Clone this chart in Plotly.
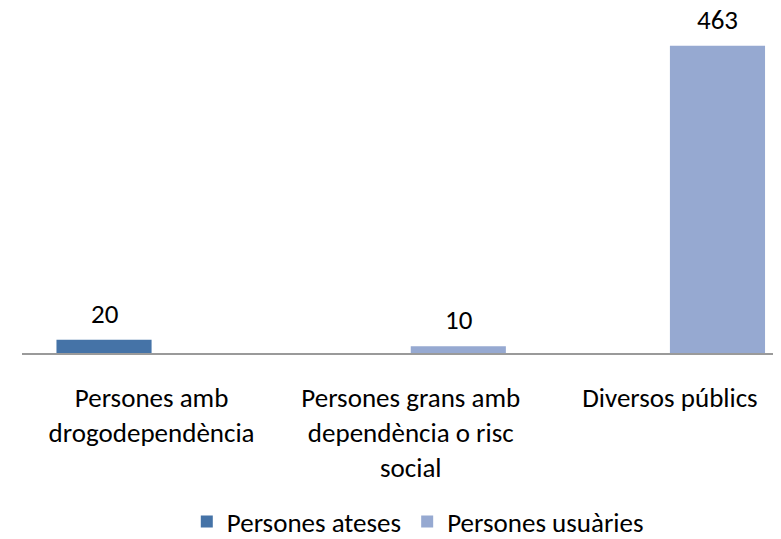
import plotly.graph_objects as go

categories = ["Persones amb<br>drogodependència",
              "Persones grans amb<br>dependència o risc<br>social",
              "Diversos públics"]
series_names = ["Persones ateses", "Persones usuàries"]
ateses = [20, None, None]
usuaries = [None, 10, 463]
colors = ["#4573A7", "#96A9D1"]

FONT = "Carlito, Calibri, Lato, sans-serif"
FS = 27

fig = go.Figure()
for name, vals, col, lg in zip(series_names, [ateses, usuaries], colors,
                               ["legend", "legend2"]):
    fig.add_trace(go.Bar(x=categories, y=vals, name=name, marker_color=col,
                         marker_line_width=0, legend=lg))

# data labels
bargap = 0.266
barw = (1 - bargap) / 2
px_per_unit = (773 - 14) / (2.4286 + 0.5)
for i, vals in enumerate([ateses, usuaries]):
    off = (-0.5 + i) * barw * px_per_unit
    for c, v in zip(categories, vals):
        if v is None:
            continue
        fig.add_annotation(x=c, y=v, text=str(v), showarrow=False,
                           yanchor="bottom", xshift=off, yshift=8,
                           font=dict(family=FONT, size=FS, color="#000000"))

leg_common = dict(orientation="h", xref="container", yref="container",
                  xanchor="left", yanchor="middle", y=0.032,
                  font=dict(family=FONT, size=FS), bgcolor="rgba(0,0,0,0)")

fig.update_layout(
    width=773, height=531,
    margin=dict(l=14, r=0, t=12, b=186),
    paper_bgcolor="white", plot_bgcolor="white",
    barmode="group", bargap=bargap, bargroupgap=0,
    font=dict(family=FONT, size=FS, color="#000000"),
    showlegend=True,
    legend=dict(x=0.2313, **leg_common),
    legend2=dict(x=0.5164, **leg_common),
    xaxis=dict(range=[-0.5, 2.4286], showline=True, linecolor="#9A9A9A",
               linewidth=1.5, showgrid=False, ticks="outside", ticklen=20,
               tickcolor="rgba(0,0,0,0)", tickfont=dict(family=FONT, size=FS),
               tickangle=0, fixedrange=True),
    yaxis=dict(range=[0, 502], visible=False, showgrid=False, zeroline=False),
)

fig.write_html("out.html")
